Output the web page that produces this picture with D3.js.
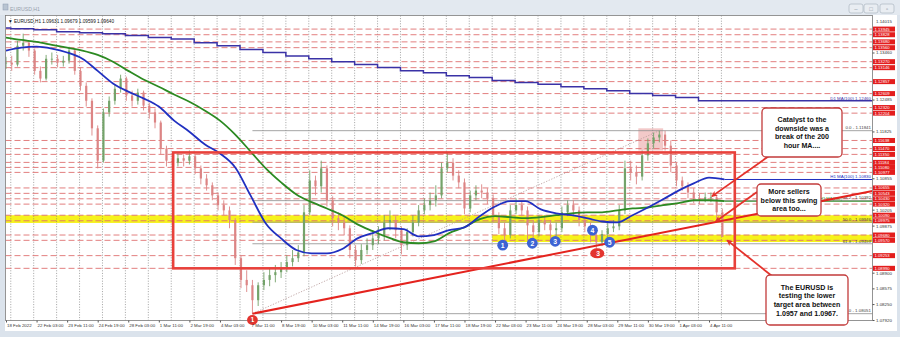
<!DOCTYPE html>
<html><head><meta charset="utf-8">
<script src="https://cdn.jsdelivr.net/npm/d3@7"></script>
<style>
html,body{margin:0;padding:0;background:#dbe3ec;}
svg{display:block;}
text{font-family:"Liberation Sans",Arial,sans-serif;}
</style></head><body>
<svg id="c" width="900" height="337"></svg>
<script>
// ---------------- DATA ----------------
const sampleStep = 6; // bars (hours) per drawn candle
const closes = [1.1325,1.1321,1.1360,1.1366,1.1350,1.1308,1.1292,1.1333,1.1333,1.1325,1.1329,1.1350,1.1308,1.1277,1.1246,1.1189,1.1122,1.1222,1.1246,1.1271,
1.1292,1.1257,1.1246,1.1263,1.1236,1.1222,1.1201,1.1147,1.1122,1.1118,1.1127,1.1122,1.1131,1.1106,1.1085,1.1071,1.1050,1.1030,1.1019,1.0999,
1.0920,1.0875,1.0864,1.0833,1.0864,1.0875,1.0885,1.0891,1.0899,1.0912,1.0920,1.0932,1.1015,1.1081,1.1069,1.1106,1.1040,1.1003,1.0994,1.0982,
1.0937,1.0916,1.0937,1.0947,1.0961,1.0968,1.0994,1.0999,1.0978,1.0947,1.0974,1.0994,1.1019,1.1030,1.1040,1.1050,1.1106,1.1118,1.1091,1.1077,
1.1023,1.1050,1.1060,1.1056,1.1044,1.1009,1.0982,1.0968,1.1019,1.1030,1.1019,1.0988,1.0974,1.0999,1.0990,1.0978,1.0982,1.1015,1.1030,1.1019,
1.0999,1.0986,1.0968,1.0953,1.0970,1.0982,1.0986,1.1019,1.1106,1.1098,1.1089,1.1133,1.1158,1.1170,1.1176,1.1153,1.1112,1.1081,1.1069,1.1056,
1.1044,1.1042,1.1046,1.1046,1.1015,1.0964];
const highs = [1.1337,1.1339,1.1370,1.1385,1.1370,1.1354,1.1317,1.1341,1.1346,1.1341,1.1339,1.1358,1.1354,1.1315,1.1284,1.1251,1.1195,1.1230,1.1255,1.1280,
1.1300,1.1296,1.1267,1.1271,1.1267,1.1242,1.1230,1.1205,1.1153,1.1137,1.1139,1.1135,1.1143,1.1135,1.1112,1.1094,1.1077,1.1056,1.1040,1.1027,
1.1003,1.0926,1.0895,1.0875,1.0870,1.0891,1.0899,1.0906,1.0912,1.0926,1.0937,1.0947,1.1030,1.1102,1.1091,1.1122,1.1112,1.1048,1.1015,1.1007,
1.0988,1.0947,1.0949,1.0961,1.0974,1.0986,1.1009,1.1019,1.1007,1.0986,1.0982,1.1009,1.1030,1.1044,1.1056,1.1071,1.1118,1.1139,1.1127,1.1102,
1.1085,1.1060,1.1071,1.1073,1.1065,1.1052,1.1015,1.0994,1.1030,1.1044,1.1040,1.1027,1.0999,1.1009,1.1009,1.0999,1.0994,1.1027,1.1040,1.1040,
1.1027,1.1007,1.0994,1.0978,1.0978,1.0994,1.0999,1.1030,1.1122,1.1122,1.1112,1.1143,1.1168,1.1180,1.1184,1.1184,1.1164,1.1118,1.1089,1.1077,
1.1065,1.1054,1.1056,1.1056,1.1052,1.1023];
const lows = [1.1312,1.1308,1.1317,1.1350,1.1337,1.1300,1.1284,1.1288,1.1321,1.1315,1.1317,1.1323,1.1300,1.1267,1.1234,1.1174,1.1106,1.1118,1.1213,1.1238,
1.1263,1.1246,1.1234,1.1238,1.1226,1.1209,1.1189,1.1135,1.1110,1.1106,1.1110,1.1110,1.1114,1.1094,1.1073,1.1060,1.1040,1.1019,1.1009,1.0982,
1.0906,1.0858,1.0850,1.08051,1.0821,1.0854,1.0862,1.0870,1.0879,1.0891,1.0903,1.0912,1.0924,1.1009,1.1050,1.1056,1.1027,1.0986,1.0978,1.0968,
1.0920,1.0903,1.0908,1.0928,1.0937,1.0949,1.0957,1.0978,1.0961,1.0928,1.0937,1.0965,1.0986,1.1011,1.1019,1.1027,1.1044,1.1098,1.1081,1.1065,
1.1011,1.1015,1.1040,1.1044,1.1032,1.0994,1.0970,1.0953,1.0961,1.1011,1.1007,1.0957,1.0961,1.0965,1.0978,1.0957,1.0965,1.0974,1.1007,1.1007,
1.0986,1.0974,1.0953,1.0932,1.0945,1.0961,1.0974,1.0978,1.1011,1.1081,1.1073,1.1081,1.1122,1.1147,1.1160,1.1143,1.1098,1.1069,1.1060,1.1044,
1.1034,1.1032,1.1036,1.1036,1.0999,1.0965];

const maStep = 16; // bars per MA point
const ma100 = [1.1350,1.1356,1.1358,1.1354,1.1346,1.1333,1.1308,1.1282,1.1265,1.1251,1.1234,1.1205,1.1182,1.1156,1.1137,1.1108,1.1050,1.0992,1.0961,1.0937,
1.0930,1.0930,1.0939,1.0961,1.0972,1.0982,1.0980,1.0965,1.0968,1.0978,1.0984,1.1007,1.1027,1.1038,1.1038,1.1021,1.1013,1.1009,1.1003,1.0996,
1.0994,1.1009,1.1025,1.1042,1.1060,1.1075,1.1087,1.1083];
const ma200 = [1.1377,1.1372,1.1368,1.1362,1.1356,1.1350,1.1341,1.1327,1.1308,1.1290,1.1275,1.1259,1.1244,1.1226,1.1205,1.1176,1.1141,1.1106,1.1077,1.1052,
1.1036,1.1023,1.1009,1.0990,1.0976,1.0963,1.0953,1.0951,1.0955,1.0972,1.0984,1.1001,1.1007,1.1005,1.1003,1.1005,1.1009,1.1013,1.1015,1.1015,
1.1019,1.1023,1.1025,1.1030,1.1034,1.1040,1.1040,1.1038];
const dayBars = [0,5,29,53,77,101,125,149,173,197,221,245,269,293,317,341,365,389,413,437,461,485,509,533,557,581,605,629,653,677,701,725];
const d1Ma100 = [1.1397,1.1395,1.1393,1.1389,1.1387,1.1385,1.1381,1.1377,1.1374,1.1366,1.1360,1.1352,1.1346,1.1339,1.1333,1.1327,1.1321,1.1315,1.1308,1.1304,
1.1298,1.1294,1.1288,1.1284,1.1280,1.1275,1.1271,1.1267,1.1261,1.1257,1.1253,1.1246];
const separatorBars = [5,29,53,77,101,125,149,173,197,221,245,269,293,317,341,365,389,413,437,461,485,509,533,557,581,605,629,653,677,701,725,749];

const timeBars = [0,32,64,96,128,160,192,224,256,288,320,352,384,416,448,480,512,544,576,608,640,672,704,736];
const timeLabels = ["18 Feb 2022","22 Feb 03:00","23 Feb 11:00","24 Feb 19:00","28 Feb 03:00","1 Mar 11:00","2 Mar 19:00","4 Mar 03:00",
"7 Mar 11:00","8 Mar 19:00","10 Mar 03:00","11 Mar 11:00","14 Mar 19:00","16 Mar 03:00","17 Mar 11:00","18 Mar 19:00","22 Mar 03:00",
"23 Mar 11:00","24 Mar 19:00","28 Mar 03:00","29 Mar 11:00","30 Mar 19:00","1 Apr 03:00","4 Apr 11:00"];
const priceTicks = [1.07920,1.08250,1.08575,1.08900,1.09875,1.10205,1.10855,1.11825,1.12485,1.13460];
const topPriceLabel = 1.14015;
const levelPrices = [1.13945,1.13828,1.13680,1.13560,1.13270,1.13146,1.12857,1.12609,1.12320,1.12204,1.11638,1.11470,1.11350,1.11184,1.11080,
1.10977,1.10655,1.10543,1.10430,1.10320,1.10090,1.09975,1.09680,1.09570,1.09253,1.08990];
const fibNames = ["0.0","38.2","50.0","61.8","100.0"];
const fibPrices = [1.11841,1.10392,1.09946,1.09499,1.08051];
const fibAnchors = [{bar:258, price:1.08051},{bar:684, price:1.11841}];
const trendAnchors = [{bar:258, price:1.08051},{bar:779, price:1.1009}];
const boxZone = {bar0:175, bar1:763, top:1.1139, bottom:1.0899};
const upperBand = {bar0:0, top:1.1009, bottom:1.0993};
const lowerBand = {bar0:509, top:1.09685, bottom:1.09535};
const highZone = {bar0:662, bar1:688, top:1.1189, bottom:1.1143};
const blueMarks = [{n:"1",bar:520,price:1.0947},{n:"2",bar:551,price:1.0951},{n:"3",bar:575,price:1.0955},{n:"4",bar:614,price:1.0978},{n:"5",bar:632,price:1.0953}];
const redMarks = [{n:"1",bar:258,price:1.0792},{n:"3",bar:619,price:1.0930}];
const headerText = "\u25BC EURUSD,H1  1.09631 1.09679 1.09599 1.09640";

// ---------------- LAYOUT ----------------
const svg = d3.select("#c");
const L = 5.5, R = 872.5, T = 15.5, B = 320.5;
const x = d3.scaleLinear().domain([0,736]).range([6,709]);
const y = d3.scaleLinear().domain([1.0792,1.1346]).range([320,52.5]);
const barMax = x.invert(R);

// window chrome
svg.append("rect").attr("width",900).attr("height",337).attr("fill","#dbe3ec");
svg.append("rect").attr("x",0).attr("y",0).attr("width",900).attr("height",15).attr("fill","#e3e9f0");
svg.append("rect").attr("x",3).attr("y",4).attr("width",5).attr("height",6).attr("fill","#b8c4d2").attr("stroke","#8d9bb0").attr("stroke-width",0.5);
svg.append("text").attr("x",10).attr("y",10.5).attr("font-size",5.2).attr("fill","#98a2ad").text("EURUSD,H1");
[849,864,880].forEach((bx,i)=>{
  svg.append("rect").attr("x",bx).attr("y",4).attr("width",14).attr("height",9).attr("rx",2)
    .attr("fill","#e9edf2").attr("stroke","#aeb7c2").attr("stroke-width",0.7);
  svg.append("text").attr("x",bx+7).attr("y",11).attr("text-anchor","middle").attr("font-size",6).attr("fill","#8a939e")
    .text(["\u2013","\u25A1","\u25AB"][i]);
});
svg.append("rect").attr("x",5).attr("y",15).attr("width",892).attr("height",316).attr("fill","#fff");

const defs = svg.append("defs");
defs.append("clipPath").attr("id","pc").append("rect")
  .attr("x",L).attr("y",T).attr("width",R-L).attr("height",B-T);
defs.append("marker").attr("id","ah").attr("viewBox","0 0 8 8").attr("refX",7).attr("refY",4)
  .attr("markerWidth",6).attr("markerHeight",6).attr("orient","auto-start-reverse").attr("markerUnits","userSpaceOnUse")
  .append("path").attr("d","M0,0 L8,4 L0,8 L2,4 Z").attr("fill","#e4322b");

const g = svg.append("g").attr("clip-path","url(#pc)");

// bands
g.append("rect").attr("x",L).attr("y",y(upperBand.top))
  .attr("width",R-L).attr("height",y(upperBand.bottom)-y(upperBand.top)).attr("fill","#f6f21c");
g.append("rect").attr("x",x(lowerBand.bar0)).attr("y",y(lowerBand.top))
  .attr("width",R-x(lowerBand.bar0)).attr("height",y(lowerBand.bottom)-y(lowerBand.top)).attr("fill","#f6f21c");
g.append("rect").attr("x",x(highZone.bar0)).attr("y",y(highZone.top)).attr("width",x(highZone.bar1)-x(highZone.bar0))
  .attr("height",y(highZone.bottom)-y(highZone.top)).attr("fill","#f3c9c9");

// day separators
g.selectAll(".sep").data(separatorBars).join("line")
  .attr("x1",d=>x(d)).attr("x2",d=>x(d)).attr("y1",T).attr("y2",B)
  .attr("stroke","#7a7a7a").attr("stroke-width",0.7).attr("stroke-dasharray","1,1.6");

// red dashed levels
g.selectAll(".lvl").data(levelPrices).join("line")
  .attr("x1",L).attr("x2",R).attr("y1",d=>y(d)).attr("y2",d=>y(d))
  .attr("stroke","#df7070").attr("stroke-width",0.9).attr("stroke-dasharray","6,3");

// fib lines
g.selectAll(".fib").data(fibPrices).join("line")
  .attr("x1",x(fibAnchors[0].bar)).attr("x2",R).attr("y1",d=>y(d)).attr("y2",d=>y(d))
  .attr("stroke","#8e8e8e").attr("stroke-width",0.8);
g.append("line").attr("x1",x(fibAnchors[0].bar)).attr("y1",y(fibAnchors[0].price))
  .attr("x2",x(fibAnchors[1].bar)).attr("y2",y(fibAnchors[1].price))
  .attr("stroke","#b79a9a").attr("stroke-width",0.8).attr("stroke-dasharray","1.3,1.5");

// candles
const samples = closes.map((c,i)=>({bar:i*sampleStep, o:i?closes[i-1]:c, c, h:highs[i], l:lows[i]}));
const upC = "#74a36a", dnC = "#dc8585";
const cg = g.append("g");
cg.selectAll("line").data(samples).join("line")
  .attr("x1",d=>x(d.bar)).attr("x2",d=>x(d.bar)).attr("y1",d=>y(d.h)).attr("y2",d=>y(d.l))
  .attr("stroke",d=>d.c>=d.o?upC:dnC).attr("stroke-width",0.9);
cg.selectAll("rect").data(samples).join("rect")
  .attr("x",d=>x(d.bar)-1.1).attr("width",2.2)
  .attr("y",d=>y(Math.max(d.o,d.c))).attr("height",d=>Math.max(0.8,Math.abs(y(d.o)-y(d.c))))
  .attr("fill",d=>d.c>=d.o?upC:dnC);

// moving averages
const maLine = d3.line().x(d=>x(d.bar)).y(d=>y(d.v)).curve(d3.curveMonotoneX);
const maPts = arr => arr.map((v,i)=>({bar:i*maStep,v}));
const p100 = maPts(ma100), p200 = maPts(ma200);
g.append("path").attr("d",maLine(p200)).attr("fill","none").attr("stroke","#2c8a22").attr("stroke-width",1.8);
g.append("path").attr("d",maLine(p100)).attr("fill","none").attr("stroke","#2030c0").attr("stroke-width",1.8);
g.append("line").attr("x1",x(p200[p200.length-1].bar)).attr("x2",R).attr("y1",y(ma200[ma200.length-1])).attr("y2",y(ma200[ma200.length-1]))
  .attr("stroke","#2c8a22").attr("stroke-width",1);
g.append("line").attr("x1",x(p100[p100.length-1].bar)).attr("x2",R).attr("y1",y(ma100[ma100.length-1])).attr("y2",y(ma100[ma100.length-1]))
  .attr("stroke","#2030c0").attr("stroke-width",1);
const d1Pts = dayBars.map((b,i)=>({bar:b,v:d1Ma100[i]}));
d1Pts.push({bar:barMax, v:d1Ma100[d1Ma100.length-1]});
g.append("path").attr("d",d3.line().x(d=>x(d.bar)).y(d=>y(d.v)).curve(d3.curveStepAfter)(d1Pts))
  .attr("fill","none").attr("stroke","#3a32a6").attr("stroke-width",1.5);

// labels at right inside plot
const lblFs = 4.4;
fibPrices.forEach((p,i)=>{
  g.append("text").attr("x",R-1.5).attr("y",y(p)-1.2).attr("text-anchor","end").attr("font-size",lblFs)
    .attr("fill","#444").text(fibNames[i]+" - "+p.toFixed(5));
});
g.append("text").attr("x",R-1.5).attr("y",y(ma100[ma100.length-1])-1.2).attr("text-anchor","end").attr("font-size",lblFs)
  .attr("fill","#2030c0").text("H1 MA(100) "+ma100[ma100.length-1].toFixed(5));
g.append("text").attr("x",842).attr("y",y(ma200[ma200.length-1])-1.2).attr("text-anchor","end").attr("font-size",4.1)
  .attr("fill","#2c8a22").text("H1 MA(200)");
g.append("text").attr("x",R-1.5).attr("y",y(d1Ma100[d1Ma100.length-1])-1.2).attr("text-anchor","end").attr("font-size",lblFs)
  .attr("fill","#3a32a6").text("D1 MA(100) "+d1Ma100[d1Ma100.length-1].toFixed(5));

// trend line (ray)
const slope = (trendAnchors[1].price-trendAnchors[0].price)/(trendAnchors[1].bar-trendAnchors[0].bar);
g.append("line").attr("x1",x(trendAnchors[0].bar)).attr("y1",y(trendAnchors[0].price))
  .attr("x2",x(barMax)).attr("y2",y(trendAnchors[0].price+slope*(barMax-trendAnchors[0].bar)))
  .attr("stroke","#e4231e").attr("stroke-width",2);

// big rectangle
g.append("rect").attr("x",x(boxZone.bar0)).attr("y",y(boxZone.top))
  .attr("width",x(boxZone.bar1)-x(boxZone.bar0)).attr("height",y(boxZone.bottom)-y(boxZone.top))
  .attr("fill","none").attr("stroke","#e8413b").attr("stroke-width",2.6);

// plot border
svg.append("rect").attr("x",L).attr("y",T).attr("width",R-L).attr("height",B-T)
  .attr("fill","none").attr("stroke","#7a7a7a").attr("stroke-width",0.8);

// numbered marks (not clipped)
const mg = svg.append("g");
blueMarks.forEach(m=>{
  mg.append("circle").attr("cx",x(m.bar)).attr("cy",y(m.price)).attr("r",5.4).attr("fill","#3d63d4");
  mg.append("text").attr("x",x(m.bar)).attr("y",y(m.price)+2.4).attr("text-anchor","middle").attr("font-size",6.8)
    .attr("font-weight","bold").attr("fill","#fff").text(m.n);
});
redMarks.forEach((m,i)=>{
  mg.append("ellipse").attr("cx",x(m.bar)).attr("cy",y(m.price)).attr("rx",i?7:5.4).attr("ry",5).attr("fill","#e3342f");
  mg.append("text").attr("x",x(m.bar)+(i?1:0)).attr("y",y(m.price)+2.4).attr("text-anchor","middle").attr("font-size",6.8)
    .attr("font-weight","bold").attr("fill","#fff").text(m.n);
});

// axes
const ya = svg.append("g").attr("transform",`translate(${R},0)`)
  .call(d3.axisRight(y).tickValues(priceTicks).tickFormat(d3.format(".5f")).tickSize(2).tickPadding(1.5));
ya.select(".domain").remove();
ya.selectAll("text").attr("font-size",4.4).attr("fill","#333").attr("font-family","Liberation Sans, Arial");
ya.selectAll("line").attr("stroke","#555");
svg.append("text").attr("x",R+3.5).attr("y",y(topPriceLabel)-3.2).attr("font-size",4.4).attr("fill","#333")
  .text(topPriceLabel.toFixed(5));
const xa = svg.append("g").attr("transform",`translate(0,${B})`)
  .call(d3.axisBottom(x).tickValues(timeBars).tickFormat((d,i)=>timeLabels[i]).tickSize(2).tickPadding(1.5));
xa.select(".domain").remove();
xa.selectAll("text").attr("font-size",4.4).attr("fill","#333").attr("text-anchor","start").attr("dx",0.5)
  .attr("font-family","Liberation Sans, Arial");
xa.selectAll("line").attr("stroke","#555");

// red price tags
levelPrices.forEach(p=>{
  svg.append("rect").attr("x",R+0.5).attr("y",y(p)-2.5).attr("width",22).attr("height",5).attr("fill","#e31d1d");
  svg.append("text").attr("x",R+2).attr("y",y(p)+1.5).attr("font-size",4.2).attr("fill","#fff").text(p.toFixed(5));
});

// header text
svg.append("text").attr("x",8).attr("y",22.5).attr("font-size",4.7).attr("fill","#111").text(headerText);

// callouts
const calloutColor = "#c23b3b";
const callouts = [
  {x:762,y:108,w:80,h:49,lines:["Catalyst to the","downside was a","break of the 200","hour MA...."],
   from:[769,156], to:{bar:739,price:1.1048}},
  {x:757,y:184,w:64,h:32,lines:["More sellers","below this swing","area too..."],
   from:[757,192], to:{bar:743,price:1.0996}},
  {x:766,y:275,w:82,h:50,lines:["The EURUSD is","testing the lower","target area between","1.0957 and 1.0967."],
   from:[772,276], to:{bar:755,price:1.0957}}
];
callouts.forEach(c=>{
  svg.append("line").attr("x1",c.from[0]).attr("y1",c.from[1]).attr("x2",x(c.to.bar)).attr("y2",y(c.to.price))
    .attr("stroke","#e4322b").attr("stroke-width",1.8).attr("marker-end","url(#ah)");
});
callouts.forEach(c=>{
  svg.append("rect").attr("x",c.x).attr("y",c.y).attr("width",c.w).attr("height",c.h).attr("rx",4)
    .attr("fill","#fff").attr("stroke",calloutColor).attr("stroke-width",1.3);
  const lh = 8.6, n = c.lines.length;
  const startY = c.y + c.h/2 - (n-1)*lh/2 + 2.6;
  c.lines.forEach((t,i)=>{
    svg.append("text").attr("x",c.x+c.w/2).attr("y",startY+i*lh).attr("text-anchor","middle")
      .attr("font-size",7.1).attr("font-weight","bold").attr("fill","#111").text(t);
  });
});
</script>
</body></html>
